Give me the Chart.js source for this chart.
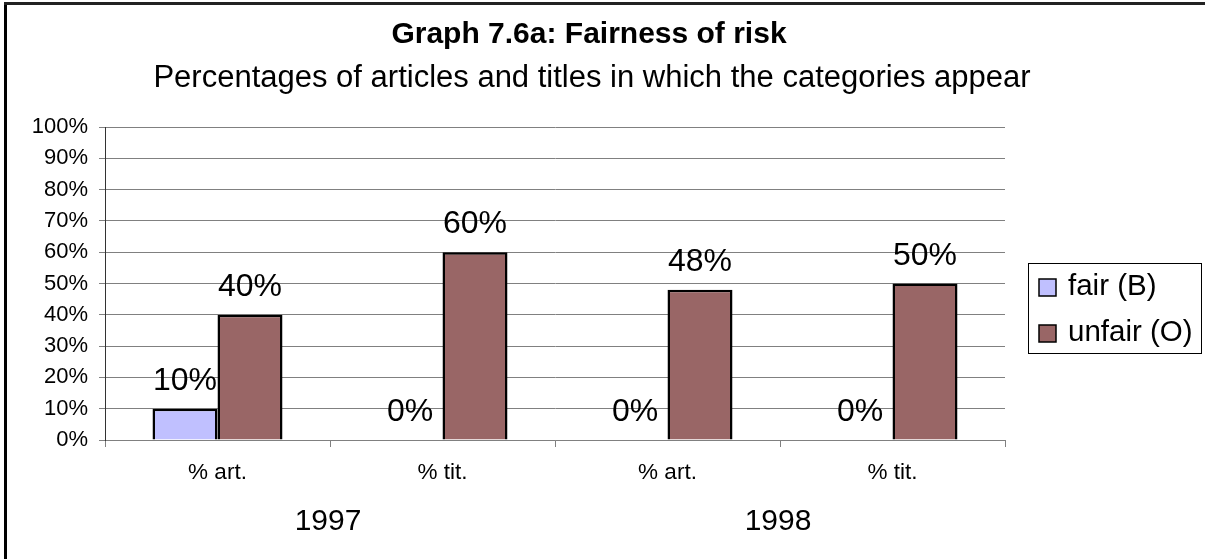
<!DOCTYPE html>
<html>
<head>
<meta charset="utf-8">
<script src="https://cdn.jsdelivr.net/npm/chart.js@4/dist/chart.umd.min.js"></script>
<style>
  html, body { margin: 0; padding: 0; background: #fff; }
  #wrap { width: 1205px; height: 559px; position: relative; }
</style>
</head>
<body>
<div id="wrap"><canvas id="chart"></canvas></div>
<script>
const categories = ['% art.', '% tit.', '% art.', '% tit.'];
const years = ['1997', '1998'];
const seriesNames = ['fair (B)', 'unfair (O)'];
const fairValues = [10, 0, 0, 0];
const unfairValues = [40, 60, 48, 50];
const yTicks = [0, 10, 20, 30, 40, 50, 60, 70, 80, 90, 100];

const colors = ['#c0c0ff', '#996666'];
const FONT = "'Liberation Sans', Arial, sans-serif";

Chart.defaults.font.family = FONT;
Chart.defaults.color = '#000';

// title, labels above bars, year row, legend box and frame
const extras = {
  id: 'extras',
  afterDraw(chart) {
    const ctx = chart.ctx;
    const x = chart.scales.x;
    ctx.save();
    ctx.fillStyle = '#000';
    ctx.textAlign = 'center';
    ctx.textBaseline = 'alphabetic';

    ctx.font = 'bold 30px ' + FONT;
    ctx.fillText('Graph 7.6a: Fairness of risk', 589, 43);
    ctx.font = '31px ' + FONT;
    ctx.fillText('Percentages of articles and titles in which the categories appear', 592, 87);

    // value labels
    ctx.font = '32px ' + FONT;
    chart.data.datasets.forEach((ds, i) => {
      chart.getDatasetMeta(i).data.forEach((bar, j) => {
        ctx.fillText(ds.data[j] + '%', bar.x, bar.y - 19);
      });
    });

    // year labels under each pair of categories
    ctx.font = '30px ' + FONT;
    years.forEach((y, k) => {
      const cx = (x.getPixelForValue(k * 2) + x.getPixelForValue(k * 2 + 1)) / 2;
      ctx.fillText(y, cx - 2, 530);
    });

    // legend
    ctx.strokeStyle = '#000';
    ctx.lineWidth = 1;
    ctx.strokeRect(1028.5, 263.5, 173, 90);
    ctx.textAlign = 'left';
    ctx.font = '29.5px ' + FONT;
    seriesNames.forEach((name, i) => {
      const sy = 279 + i * 46;
      ctx.fillStyle = colors[i];
      ctx.fillRect(1039, sy, 17, 17);
      ctx.lineWidth = 1.5;
      ctx.strokeRect(1039, sy, 17, 17);
      ctx.fillStyle = '#000';
      ctx.fillText(name, 1068, sy + 16);
    });

    // outer frame (left and top edges visible)
    ctx.fillStyle = '#000';
    ctx.fillRect(4, 2, 3, 557);
    ctx.fillStyle = '#222';
    ctx.fillRect(4, 2, 1201, 3);
    ctx.restore();
  }
};

new Chart(document.getElementById('chart'), {
  type: 'bar',
  data: {
    labels: categories,
    datasets: [
      { label: seriesNames[0], data: fairValues, backgroundColor: colors[0] },
      { label: seriesNames[1], data: unfairValues, backgroundColor: colors[1] }
    ]
  },
  options: {
    responsive: true,
    maintainAspectRatio: false,
    animation: false,
    layout: { padding: { left: 0, right: 200, top: 127, bottom: 0 } },
    datasets: {
      bar: {
        borderColor: '#000',
        borderWidth: 2.5,
        categoryPercentage: 130 / 225,
        barPercentage: 1
      }
    },
    plugins: {
      legend: { display: false },
      title: { display: false },
      tooltip: { enabled: false }
    },
    scales: {
      x: {
        grid: { drawOnChartArea: false, color: '#808080', tickLength: 7 },
        border: { color: '#808080' },
        ticks: { font: { size: 22.5 }, padding: 12, color: '#000' },
        afterFit(scale) { scale.height = 119; }
      },
      y: {
        min: 0,
        max: 100,
        afterBuildTicks(scale) { scale.ticks = yTicks.map(v => ({ value: v })); },
        grid: { color: '#808080', tickLength: 6 },
        border: { color: '#333' },
        ticks: { font: { size: 22 }, padding: 11, color: '#000', callback: v => v + '%' },
        afterFit(scale) { scale.width = 105; }
      }
    }
  },
  plugins: [extras]
});
</script>
</body>
</html>
